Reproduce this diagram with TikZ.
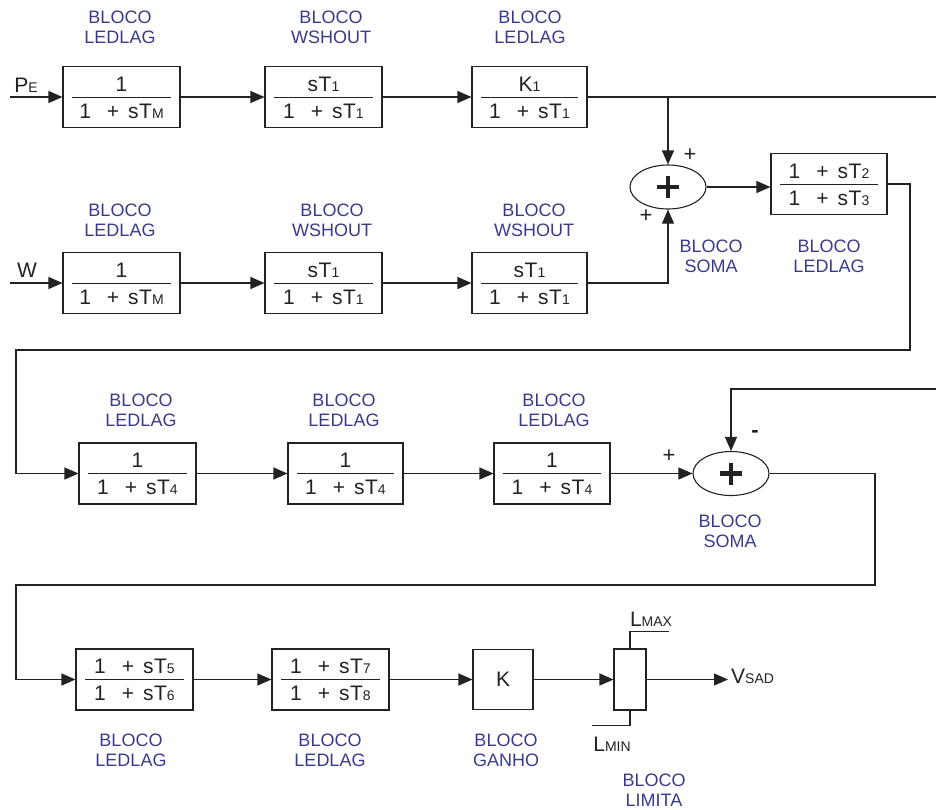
\documentclass[tikz,border=0pt]{standalone}
\usepackage{fontspec}
\setmainfont{Liberation Sans}
\usetikzlibrary{arrows.meta,calc,shapes.geometric}
\definecolor{lblue}{HTML}{3A3A8C}
\definecolor{ink}{HTML}{222222}
\newcommand\sbs[1]{{\fontsize{14}{14}\selectfont #1}}
\tikzset{
  blkbox/.style={draw=ink, line width=1.1pt, rectangle, minimum height=61pt, inner sep=0pt},
  fracline/.style={draw=ink, line width=1pt},
  ftext/.style={text=ink, inner sep=0pt, font=\fontsize{21}{22}\selectfont},
  sumnode/.style={draw=ink, line width=1.1pt, ellipse, minimum width=76pt, minimum height=44pt, inner sep=0pt, text=ink},
  plusmark/.style={draw=ink, line width=4.2pt},
  wire/.style={draw=ink, line width=1.1pt},
  arr/.style={wire, -{Triangle[length=14pt,width=12pt]}},
  lbl/.style={text=lblue, align=center, inner sep=0pt, font=\fontsize{18}{20}\selectfont},
  sgn/.style={text=ink, inner sep=0pt, font=\fontsize{22}{22}\selectfont},
  io/.style={text=ink, inner sep=0pt, font=\fontsize{21}{22}\selectfont},
}
\newcommand\blk[5]{%
  \node[blkbox, minimum width=#3] (#1) at (#2) {};
  \draw[fracline] ($(#1.west)+(10,0)$) -- ($(#1.east)+(-10,0)$);
  \node[ftext] (#1n) at ($(#1.center)+(0,-13)$) {#4};
  \node[ftext] (#1d) at ($(#1.center)+(0,14)$) {#5};
}
\newcommand\den[1]{1\hspace{16pt}+\hspace{9pt}s\kern0.5ptT\sbs{#1}}
\newcommand\wsn{s\kern0.5ptT\sbs{1}}
\begin{document}
\begin{tikzpicture}[x=1pt,y=-1pt]
\useasboundingbox (0,0) rectangle (936,809);
% row 1
\blk{b11}{121.5,97}{117pt}{1}{\den{M}}
\blk{b12}{323.5,97}{117pt}{\wsn}{\den{1}}
\blk{b13}{529.5,97}{115pt}{K\sbs{1}}{\den{1}}
% row 2
\blk{b21}{121.5,283}{117pt}{1}{\den{M}}
\blk{b22}{323.5,283}{117pt}{\wsn}{\den{1}}
\blk{b23}{529.5,283}{115pt}{\wsn}{\den{1}}
% sum 1 and lead-lag
\node[sumnode] (s1) at (668,187) {};
\draw[plusmark] ($(s1.center)+(-11,0)$) -- ($(s1.center)+(11,0)$) ($(s1.center)+(0,-11)$) -- ($(s1.center)+(0,11)$);
\blk{b14}{829,184}{116pt}{\den{2}}{\den{3}}
% row 3
\blk{b31}{137.5,473.5}{117pt}{1}{\den{4}}
\blk{b32}{345.5,473.5}{115pt}{1}{\den{4}}
\blk{b33}{552,473.5}{116pt}{1}{\den{4}}
\node[sumnode] (s2) at (731,473.5) {};
\draw[plusmark] ($(s2.center)+(-11,0)$) -- ($(s2.center)+(11,0)$) ($(s2.center)+(0,-11)$) -- ($(s2.center)+(0,11)$);
% row 4
\blk{b41}{134.5,679.5}{117pt}{\den{5}}{\den{6}}
\blk{b42}{330.5,679.5}{117pt}{\den{7}}{\den{8}}
\node[blkbox, minimum width=60pt, minimum height=60pt, font=\fontsize{21}{22}\selectfont, text=ink] (kb) at (503,679.5) {K};
\node[blkbox, minimum width=32pt, minimum height=61pt] (lim) at (630,679.5) {};

% inputs
\coordinate (in1) at (10,97);
\coordinate (in2) at (10,283);
\node[io] (pe) at (26,85) {P\sbs{E}};
\node[io] (w) at (27,270) {W};
\draw[arr] (in1) -- (b11.west);
\draw[arr] (in2) -- (b21.west);
% row 1 wires
\draw[arr] (b11.east) -- (b12.west);
\draw[arr] (b12.east) -- (b13.west);
\coordinate (r1end) at (936,97);
\draw[wire] (b13.east) -- (r1end);
\draw[arr] (s1.north |- r1end) -- (s1.north);
% row 2 wires
\draw[arr] (b21.east) -- (b22.west);
\draw[arr] (b22.east) -- (b23.west);
\draw[arr] (b23.east) -| (s1.south);
\draw[arr] (s1.east) -- (s1.east -| b14.west);
% to row 3
\coordinate (t1) at (910,350);
\coordinate (t2) at (16,350);
\draw[arr] (b14.east) -| (t1) -- (t2) |- (b31.west);
\draw[arr] (b31.east) -- (b32.west);
\draw[arr] (b32.east) -- (b33.west);
\draw[arr] (b33.east) -- (s2.west);
\coordinate (fb) at (936,389);
\draw[arr] (fb) -| (s2.north);
% to row 4
\coordinate (t3) at (875,585);
\coordinate (t4) at (16,585);
\draw[arr] (s2.east) -| (t3) -- (t4) |- (b41.west);
\draw[arr] (b41.east) -- (b42.west);
\draw[arr] (b42.east) -- (kb.west);
\draw[arr] (kb.east) -- (lim.west);
\coordinate (out) at (728,679.5);
\draw[arr] (lim.east) -- (out);
\node[io, anchor=west] (vsad) at (731,676) {V\sbs{SAD}};
\draw[wire] (lim.north) -- ++(0,-17) -- ++(39,0);
\draw[wire] (lim.south) -- ++(0,15) -- ++(-38,0);
\node[io] (lmax) at (651,619) {L\sbs{MAX}};
\node[io] (lmin) at (612,744) {L\sbs{MIN}};

% signs
\node[sgn] (p1) at (690,155) {+};
\node[sgn] (p2) at (646,216) {+};
\node[sgn] (p3) at (669,456) {+};
\node[sgn] (m1) at (755,434) {\textbf{-}};

% labels
\node[lbl] (l1) at (120,27) {BLOCO\\LEDLAG};
\node[lbl] (l2) at (331,27) {BLOCO\\WSHOUT};
\node[lbl] (l3) at (530,27) {BLOCO\\LEDLAG};
\node[lbl] (l4) at (120,220) {BLOCO\\LEDLAG};
\node[lbl] (l5) at (332,220) {BLOCO\\WSHOUT};
\node[lbl] (l6) at (534,220) {BLOCO\\WSHOUT};
\node[lbl] (l7) at (711,256) {BLOCO\\SOMA};
\node[lbl] (l8) at (829,256) {BLOCO\\LEDLAG};
\node[lbl] (l9) at (141,410) {BLOCO\\LEDLAG};
\node[lbl] (l10) at (344,410) {BLOCO\\LEDLAG};
\node[lbl] (l11) at (554,410) {BLOCO\\LEDLAG};
\node[lbl] (l12) at (730,531) {BLOCO\\SOMA};
\node[lbl] (l13) at (131,750) {BLOCO\\LEDLAG};
\node[lbl] (l14) at (330,750) {BLOCO\\LEDLAG};
\node[lbl] (l15) at (506,750) {BLOCO\\GANHO};
\node[lbl] (l16) at (654,790) {BLOCO\\LIMITA};
\end{tikzpicture}
\end{document}
